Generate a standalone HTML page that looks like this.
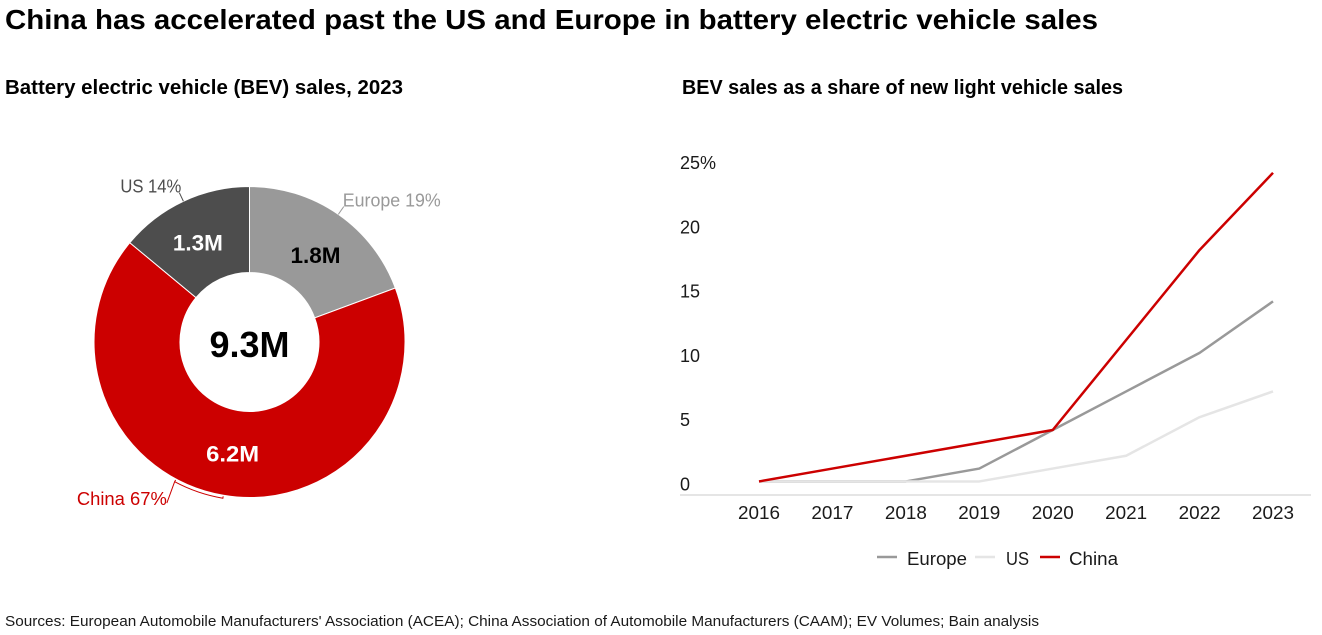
<!DOCTYPE html>
<html lang="en">
<head>
<meta charset="utf-8">
<title>China BEV sales</title>
<style>
  html, body { margin: 0; padding: 0; background: #fff; }
  body { width: 1322px; height: 635px; overflow: hidden; }
  svg { display: block; font-family: "Liberation Sans", Arial, sans-serif; }
</style>
</head>
<body>
<svg id="root" width="1322" height="635" viewBox="0 0 1322 635" xmlns="http://www.w3.org/2000/svg">
  <text x="5" y="29" font-size="28" font-weight="700" fill="#000" textLength="1093" lengthAdjust="spacingAndGlyphs">China has accelerated past the US and Europe in battery electric vehicle sales</text>
  <text x="5" y="94" font-size="20" font-weight="700" fill="#000" textLength="398" lengthAdjust="spacingAndGlyphs">Battery electric vehicle (BEV) sales, 2023</text>
  <text x="682" y="94" font-size="20" font-weight="700" fill="#000" textLength="441" lengthAdjust="spacingAndGlyphs">BEV sales as a share of new light vehicle sales</text>
  <text x="5" y="626" font-size="14.5" fill="#1a1a1a" textLength="1034" lengthAdjust="spacingAndGlyphs">Sources: European Automobile Manufacturers' Association (ACEA); China Association of Automobile Manufacturers (CAAM); EV Volumes; Bain analysis</text>
  <g id="donut"></g>
  <g id="lines"></g>
</svg>
<script>
// Donut data
const regions = ['Europe', 'China', 'US'];
const salesMillions = [1.8, 6.2, 1.3];
const shareLabels = ['Europe 19%', 'China 67%', 'US 14%'];
const valueLabels = ['1.8M', '6.2M', '1.3M'];
const totalLabel = '9.3M';

// Line chart data
const years = ['2016', '2017', '2018', '2019', '2020', '2021', '2022', '2023'];
const europeShare = [1, 1, 1, 2, 5, 8, 11, 15];
const usShare = [1, 1, 1, 1, 2, 3, 6, 8];
const chinaShare = [1, 2, 3, 4, 5, 12, 19, 25];
const yTicks = [0, 5, 10, 15, 20, 25];
const yTickLabels = ['0', '5', '10', '15', '20', '25%'];

const NS = 'http://www.w3.org/2000/svg';
function make(parent, tag, attrs, text) {
  const el = document.createElementNS(NS, tag);
  for (const k in attrs) el.setAttribute(k, attrs[k]);
  if (text !== undefined) el.textContent = text;
  parent.appendChild(el);
  return el;
}
function slug(s) { return String(s).toLowerCase().replace(/[^a-z0-9]+/g, '-'); }

// ---- Donut ----
const donut = document.getElementById('donut');
const cx = 249.5, cy = 342, rOuter = 155.5, rInner = 69.5;
const sliceColors = { Europe: '#999999', China: '#cc0000', US: '#4d4d4d' };
const valueColors = { Europe: '#000000', China: '#ffffff', US: '#ffffff' };
const labelColors = { Europe: '#999999', China: '#cc0000', US: '#4d4d4d' };
const valueStyle = {
  Europe: { dx: 2, dy: 5, width: 50 },
  China: { dx: 2, dy: 1, width: 53 },
  US: { dx: -4, dy: 2, width: 50 }
};
const shareWidth = { Europe: 98, China: 90, US: 61 };
function polar(r, deg) {
  const a = deg * Math.PI / 180;
  return [cx + r * Math.sin(a), cy - r * Math.cos(a)];
}
const totalSales = salesMillions.reduce((a, b) => a + b, 0);
let startDeg = 0;
regions.forEach((region, i) => {
  const sweep = salesMillions[i] / totalSales * 360;
  const endDeg = startDeg + sweep;
  const midDeg = startDeg + sweep / 2;
  const large = sweep > 180 ? 1 : 0;
  const p1 = polar(rOuter, startDeg), p2 = polar(rOuter, endDeg);
  const p3 = polar(rInner, endDeg), p4 = polar(rInner, startDeg);
  const slice = make(donut, 'path', {
    d: `M${p1[0]} ${p1[1]}A${rOuter} ${rOuter} 0 ${large} 1 ${p2[0]} ${p2[1]}L${p3[0]} ${p3[1]}A${rInner} ${rInner} 0 ${large} 0 ${p4[0]} ${p4[1]}Z`,
    fill: sliceColors[region], stroke: '#fff', 'stroke-width': 1
  });
  
  

  const c = polar(112, midDeg);
  const vs = valueStyle[region];
  const value = make(donut, 'text', {
    x: c[0] + vs.dx, y: c[1] + 8 + vs.dy, 'text-anchor': 'middle', 'font-size': 22, 'font-weight': 700,
    fill: valueColors[region], textLength: vs.width, lengthAdjust: 'spacingAndGlyphs'
  }, valueLabels[i]);
  
  

  let leaderEnd, anchor, dx, dy;
  if (region === 'China') {
    const bracketR = rOuter + 3;
    const a = midDeg, b = midDeg + 18.5;
    const t1 = polar(rOuter + 1, a), q1 = polar(bracketR, a), q2 = polar(bracketR, b), t2 = polar(rOuter + 1, b);
    leaderEnd = polar(181, b - 1);
    const bracket = make(donut, 'path', {
      d: `M${t1[0]} ${t1[1]}L${q1[0]} ${q1[1]}A${bracketR} ${bracketR} 0 0 1 ${q2[0]} ${q2[1]}L${t2[0]} ${t2[1]}M${q2[0]} ${q2[1]}L${leaderEnd[0]} ${leaderEnd[1]}`,
      fill: 'none', stroke: labelColors[region], 'stroke-width': 1
    });
    
    
    anchor = 'end'; dx = 0; dy = 2;
  } else {
    const l0 = polar(rOuter, midDeg);
    leaderEnd = polar(165, midDeg);
    const leader = make(donut, 'line', {
      x1: l0[0], y1: l0[1], x2: leaderEnd[0], y2: leaderEnd[1],
      stroke: labelColors[region], 'stroke-width': 1
    });
    
    
    anchor = region === 'US' ? 'end' : 'start';
    dx = region === 'US' ? 2 : -1;
    dy = 0;
  }
  const share = make(donut, 'text', {
    x: leaderEnd[0] + dx, y: leaderEnd[1] + dy, 'text-anchor': anchor, 'font-size': 18,
    fill: labelColors[region], textLength: shareWidth[region], lengthAdjust: 'spacingAndGlyphs'
  }, shareLabels[i]);
  
  
  startDeg = endDeg;
});
const total = make(donut, 'text', {
  x: cx, y: cy + 15, 'text-anchor': 'middle', 'font-size': 36, 'font-weight': 700, fill: '#000'
}, totalLabel);



// ---- Line chart ----
const lines = document.getElementById('lines');
const xFirst = 759, xStep = 73.43, yZero = 494.3, yPerUnit = 12.86;
const xScale = i => xFirst + i * xStep;
const yScale = v => yZero - v * yPerUnit;

const axis = make(lines, 'line', { x1: 680, x2: 1311, y1: 495, y2: 495, stroke: '#e5e5e5', 'stroke-width': 2 });



yTicks.forEach((t, i) => {
  const tick = make(lines, 'text', { x: 680, y: yScale(t) - 3.8, 'font-size': 18, fill: '#1a1a1a' }, yTickLabels[i]);
  
  
});
years.forEach((year, i) => {
  const tick = make(lines, 'text', {
    x: xScale(i), y: 519, 'text-anchor': 'middle', 'font-size': 18, fill: '#1a1a1a',
    textLength: 42, lengthAdjust: 'spacingAndGlyphs'
  }, year);
  
  
});

const seriesList = [
  { name: 'Europe', values: europeShare, color: '#999999' },
  { name: 'US', values: usShare, color: '#e5e5e5' },
  { name: 'China', values: chinaShare, color: '#cc0000' }
];
seriesList.forEach(s => {
  const pts = s.values.map((v, i) => xScale(i) + ',' + yScale(v)).join(' ');
  const line = make(lines, 'polyline', { points: pts, fill: 'none', stroke: s.color, 'stroke-width': 2.5, 'stroke-linejoin': 'round' });
  
  
});

// Legend layout
const legendLayout = {
  Europe: { swatch: 877, text: 907, width: 60 },
  US: { swatch: 975, text: 1006, width: 23 },
  China: { swatch: 1040, text: 1069, width: 49 }
};
const legend = make(lines, 'g', {});


seriesList.forEach(s => {
  const lay = legendLayout[s.name];
  const swatch = make(legend, 'line', { x1: lay.swatch, x2: lay.swatch + 20, y1: 557, y2: 557, stroke: s.color, 'stroke-width': 2.5 });
  
  
  const label = make(legend, 'text', {
    x: lay.text, y: 565, 'font-size': 18, fill: '#1a1a1a',
    textLength: lay.width, lengthAdjust: 'spacingAndGlyphs'
  }, s.name);
  
  
});
</script>
</body>
</html>
